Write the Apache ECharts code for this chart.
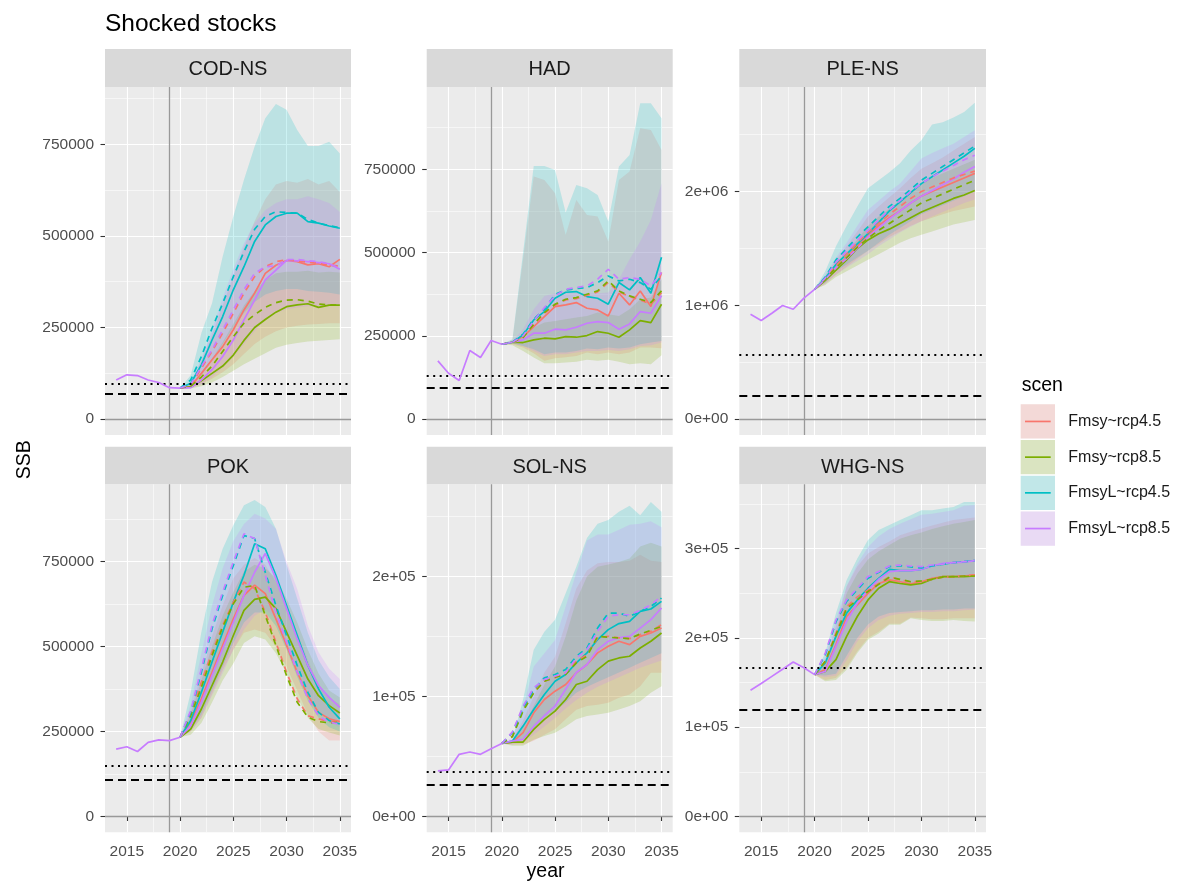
<!DOCTYPE html>
<html><head><meta charset="utf-8">
<script src="https://cdn.jsdelivr.net/npm/echarts@6/dist/echarts.min.js"></script>
<style>html,body{margin:0;padding:0;background:#fff}#c{width:1185px;height:889px}</style>
</head><body><div id="c"></div><script>
// ---------------- DATA ----------------
const YEARS = [2020,2021,2022,2023,2024,2025,2026,2027,2028,2029,2030,2031,2032,2033,2034,2035];
const HIST_YEARS = [2014,2015,2016,2017,2018,2019,2020];
const SCENARIOS = ['Fmsy~rcp4.5','Fmsy~rcp8.5','FmsyL~rcp4.5','FmsyL~rcp8.5'];
const STOCK_NAMES = ['COD-NS','HAD','PLE-NS','POK','SOL-NS','WHG-NS'];
const STOCK_UNIT = [1e3,1e3,1e6,1e3,1e3,1e3];
const X_TICKS = [2015,2020,2025,2030,2035];
const X_MINOR = [2017.5,2022.5,2027.5,2032.5];
const Y_TICKS = [[0,250000,500000,750000],[0,250000,500000,750000],[0,1e6,2e6],[0,250000,500000,750000],[0,1e5,2e5],[0,1e5,2e5,3e5]];
const Y_TICK_LABELS = [['0','250000','500000','750000'],['0','250000','500000','750000'],['0e+00','1e+06','2e+06'],['0','250000','500000','750000'],['0e+00','1e+05','2e+05'],['0e+00','1e+05','2e+05','3e+05']];
const Y_MINOR = [[125000,375000,625000,875000],[125000,375000,625000,875000],[5e5,1.5e6,2.5e6],[125000,375000,625000,875000],[5e4,1.5e5,2.5e5],[5e4,1.5e5,2.5e5,3.5e5]];

// COD-NS (thousand t)
const COD_HIST = [107,121,119,107,100,86,85];
const COD_REF = [97.8, 69.0];
const COD_SOLID = [
 [85,89,125,162,198,244,298,344,398,420,433,430,421,424,416,436],
 [85,88,105,125,145,175,215,250,272,292,307,312,315,305,311,311],
 [85,98,148,216,280,353,416,485,530,553,562,562,539,535,527,521],
 [85,86,107,135,171,216,271,325,380,407,433,432,430,427,424,409]];
const COD_DASHED = [
 [85,92,139,185,235,289,344,389,416,430,435,432,428,425,420,418],
 [85,90,115,145,185,225,262,285,305,318,325,326,322,314,312,311],
 [85,107,171,248,316,389,457,518,553,566,564,562,545,535,528,522],
 [85,95,144,189,244,298,353,398,416,418,435,436,432,430,424,412]];
const COD_LO = [
 [85,86,95,110,128,150,178,205,225,240,250,255,258,260,262,262],
 [85,84,90,100,115,132,150,165,180,195,203,208,212,214,216,218],
 [85,90,120,160,205,250,290,320,340,350,355,355,350,348,345,340],
 [85,84,95,115,140,170,205,240,270,290,300,305,308,308,310,310]];
const COD_HI = [
 [85,95,160,230,310,390,470,540,600,640,650,645,655,640,650,620],
 [85,92,125,165,210,260,310,350,380,398,402,402,405,400,402,400],
 [85,120,235,316,444,553,653,744,821,860,844,789,745,745,757,725],
 [85,100,165,245,330,410,480,535,570,590,600,600,608,600,590,565]];

// HAD (thousand t)
const HAD_HIST = [175,138,116,206,185,236,225];
const HAD_REF = [131, 93];
const HAD_SOLID = [
 [225,231,248,278,308,338,343,350,333,328,310,378,343,385,338,440],
 [225,231,230,238,243,241,248,246,251,263,258,246,268,296,290,345],
 [225,231,253,298,323,363,381,383,368,363,345,410,388,425,378,486],
 [225,231,238,258,258,270,268,276,288,293,290,270,286,323,318,371]];
const HAD_DASHED = [
 [225,231,245,283,318,342,358,362,372,382,410,382,368,358,345,380],
 [225,231,245,285,320,345,360,365,375,385,415,385,370,360,350,385],
 [225,231,255,300,330,375,388,392,395,410,430,415,420,410,390,430],
 [225,231,250,295,335,370,390,395,400,420,450,420,425,420,400,440]];
const HAD_LO = [
 [225,225,215,198,175,183,186,190,200,195,200,195,200,215,215,213],
 [225,222,205,185,168,168,170,172,178,175,178,172,165,168,165,192],
 [225,228,220,210,195,200,200,205,212,210,215,212,215,225,230,235],
 [225,228,220,205,190,195,195,200,205,205,208,205,210,220,222,230]];
const HAD_HI = [
 [225,238,480,728,718,678,553,658,613,608,533,718,743,873,868,808],
 [225,233,255,275,290,295,300,305,310,320,315,310,330,360,365,420],
 [225,240,500,760,760,748,620,703,693,673,593,758,793,948,948,903],
 [225,235,270,330,370,378,378,380,378,378,380,420,480,533,598,708]];

// PLE-NS (million t)
const PLE_HIST = [0.922,0.867,0.931,0.999,0.966,1.063,1.14];
const PLE_REF = [0.565, 0.205];
const PLE_SOLID = [
 [1.14,1.23,1.33,1.42,1.52,1.62,1.70,1.77,1.83,1.90,1.96,2.00,2.04,2.08,2.12,2.16],
 [1.14,1.22,1.31,1.40,1.50,1.575,1.63,1.67,1.72,1.77,1.82,1.86,1.90,1.94,1.97,2.01],
 [1.14,1.24,1.36,1.45,1.54,1.63,1.73,1.83,1.91,1.99,2.07,2.13,2.19,2.25,2.31,2.38],
 [1.14,1.23,1.33,1.41,1.50,1.60,1.68,1.76,1.83,1.90,1.96,2.01,2.06,2.11,2.17,2.22]];
const PLE_DASHED = [
 [1.14,1.24,1.35,1.45,1.55,1.64,1.72,1.80,1.87,1.94,2.00,2.04,2.08,2.12,2.15,2.18],
 [1.14,1.23,1.33,1.42,1.51,1.59,1.66,1.72,1.78,1.84,1.90,1.94,1.98,2.02,2.06,2.10],
 [1.14,1.25,1.40,1.50,1.60,1.69,1.78,1.87,1.94,2.02,2.10,2.16,2.22,2.28,2.34,2.40],
 [1.14,1.24,1.38,1.48,1.57,1.66,1.75,1.84,1.92,2.00,2.07,2.13,2.18,2.23,2.28,2.32]];
const PLE_LO = [
 [1.14,1.19,1.27,1.34,1.41,1.48,1.54,1.60,1.65,1.70,1.74,1.77,1.80,1.83,1.85,1.87],
 [1.14,1.18,1.25,1.30,1.35,1.40,1.45,1.50,1.55,1.59,1.62,1.65,1.68,1.71,1.73,1.75],
 [1.14,1.20,1.30,1.36,1.42,1.48,1.55,1.62,1.68,1.74,1.80,1.84,1.88,1.92,1.96,2.00],
 [1.14,1.19,1.27,1.33,1.39,1.45,1.52,1.58,1.64,1.69,1.74,1.78,1.82,1.86,1.90,1.93]];
const PLE_HI = [
 [1.14,1.26,1.40,1.52,1.65,1.78,1.87,1.95,2.03,2.12,2.20,2.25,2.30,2.36,2.42,2.48],
 [1.14,1.25,1.37,1.47,1.58,1.70,1.78,1.85,1.92,2.00,2.07,2.12,2.16,2.20,2.24,2.28],
 [1.14,1.30,1.52,1.70,1.87,2.03,2.10,2.17,2.25,2.36,2.45,2.59,2.61,2.65,2.70,2.78],
 [1.14,1.27,1.42,1.55,1.70,1.84,1.92,2.00,2.07,2.18,2.29,2.34,2.38,2.42,2.48,2.54]];

// POK (thousand t)
const POK_HIST = [198,205,191,218,225,223,233];
const POK_REF = [150, 107.3];
const POK_SOLID = [
 [233,277,346,424,503,581,650,680,655,581,503,424,355,306,287,279],
 [233,257,316,385,454,532,606,638,645,611,542,473,404,355,326,304],
 [233,282,365,454,542,630,709,802,787,709,620,532,444,375,321,287],
 [233,267,336,414,493,571,650,718,773,699,611,522,444,385,350,321]];
const POK_DASHED = [
 [233,306,395,483,562,630,689,670,601,512,424,346,296,287,279,277],
 [233,296,380,473,557,625,674,679,591,503,414,336,292,279,275,277],
 [233,306,424,552,650,738,826,817,718,620,532,444,365,306,282,272],
 [233,311,434,562,660,748,831,817,709,601,512,424,346,296,277,272]];
const POK_LO = [
 [233,250,290,360,430,490,540,550,540,500,440,370,300,250,223,223],
 [233,240,275,335,400,450,510,530,520,480,420,350,290,257,247,238],
 [233,255,300,370,440,510,570,600,600,560,490,410,340,290,262,250],
 [233,250,290,355,420,490,550,590,610,580,510,430,360,310,280,262]];
const POK_HI = [
 [233,310,420,530,620,700,740,760,740,690,620,540,460,390,350,330],
 [233,300,400,500,590,660,720,740,730,700,640,570,490,420,370,350],
 [233,365,542,689,787,856,915,930,910,846,740,640,540,460,410,375],
 [233,330,480,620,730,810,860,890,876,846,748,669,561,483,434,404]];

// SOL-NS (thousand t)
const SOL_HIST = [38.0,38.8,51.8,53.7,51.8,56.5,60.9];
const SOL_REF = [37.0, 26.3];
const SOL_SOLID = [
 [60.9,62.0,69.8,86.4,97.5,104.4,110.0,119.7,126.6,136.3,141.8,146.0,143.2,150.1,152.9,157.0],
 [60.9,62.0,62.0,72.6,80.9,87.8,97.5,110.0,112.7,122.4,129.4,132.1,133.5,140.4,146.0,152.9],
 [60.9,62.9,75.3,89.2,101.7,112.7,118.3,128.0,136.3,147.4,155.7,160.7,162.6,170.9,172.9,179.2],
 [60.9,62.9,64.3,75.0,84.0,92.0,106.0,120.0,126.6,139.0,146.0,149.0,150.0,157.0,164.0,173.7]];
const SOL_DASHED = [
 [60.9,67.0,89.2,104.4,112.7,115.5,119.7,129.4,134.9,148.8,150.1,148.8,148.2,151.5,154.3,159.8],
 [60.9,66.5,87.8,103.0,112.7,116.0,118.3,128.0,133.5,150.1,149.3,148.8,148.2,152.1,155.1,158.4],
 [60.9,69.8,90.6,105.8,115.5,118.3,122.4,133.5,140.4,157.0,169.5,169.5,166.8,170.9,175.0,182.0],
 [60.9,70.5,91.9,107.2,114.1,116.9,119.7,132.1,139.0,154.3,166.8,168.1,168.1,171.7,176.4,183.4]];
const SOL_LO = [
 [60.9,60,60,63,68,72.6,81,89,92,93,94.7,99,101.7,108.6,119.7,119.7],
 [60.9,59,59,64,67,69.8,75,81,83.7,85,86.4,89.2,92,96,103,108.6],
 [60.9,61,65,72,80,88,95,103,108,112,116,120,124,128,132,136],
 [60.9,60,62,68,75,82,90,97,103,108,112,116,120,124,127,130]];
const SOL_HI = [
 [60.9,64,80,100,120,133,161,190,205,211,212,212,213,218,213,212],
 [60.9,63,75,92,110,125,150,180,200,208,210,212,215,225,228,225],
 [60.9,64,97.5,139,154,164,186,208,232,244,247,254,259,251,262,254],
 [60.9,66,90,125,136,147,175,203,230,235,235,239,243,244,246,241]];

// WHG-NS (thousand t)
const WHG_HIST = [141.4,149,157,165,173,166.7,158.9];
const WHG_REF = [166.7, 120.0];
const WHG_SOLID = [
 [158.9,164.5,192.4,224.0,237.0,250.0,261.0,265.0,263.0,260.5,263.0,266.8,268.7,268.7,269.4,270.6],
 [158.9,162.6,175.7,201.7,224.0,242.6,255.7,263.0,261.0,259.4,261.0,265.7,268.7,268.7,268.7,269.4],
 [158.9,171.9,201.7,227.8,242.6,255.7,266.8,276.9,275.4,275.4,276.9,280.6,282.8,284.3,285.4,286.6],
 [158.9,162.6,190.5,218.5,238.9,253.8,265.7,274.3,275.4,275.4,276.9,280.6,283.5,284.3,285.0,286.6]];
const WHG_DASHED = [
 [158.9,173.8,205.4,235.0,246.0,253.8,261.0,268.7,265.0,263.0,263.0,265.7,268.0,268.7,269.4,270.6],
 [158.9,173.8,203.5,233.0,242.6,252.0,260.0,268.0,265.7,263.0,264.0,265.7,268.0,268.7,269.4,269.4],
 [158.9,181.0,218.0,241.0,254.0,267.0,273.5,280.0,281.0,279.5,278.5,280.8,282.5,284.3,285.4,286.6],
 [158.9,183.0,220.0,242.6,255.7,268.7,274.3,280.6,281.7,280.6,279.8,281.7,282.8,284.3,285.4,286.6]];
const WHG_LO = [
 [158.9,153,155,167,185,200,207,216,216,223,222,221,221,222,222,222],
 [158.9,151.5,153,164.5,183,198,205,214.7,214.7,222,220,219,219,220,219,218.5],
 [158.9,158,160,180,200,215,224,228,229,230,231,231,232,232,233,233],
 [158.9,156,158,175,196,211,220,225,227,228,229,229,230,230,231,232]];
const WHG_HI = [
 [158.9,175,212.9,257.5,279.9,294.7,302,308,315,319,322.7,326,329,332,333.5,335],
 [158.9,172,205,250,272,288,297,304,311,315,318,322,325,328,330,332],
 [158.9,183,227.8,265,289,309.6,320.8,326.4,332,337.5,343,343,345,346.8,352.4,352.4],
 [158.9,178,220,258,283,302,314,322,328,333,338,339,341,343,348,349]];

// ---------------- STYLE / LAYOUT ----------------
const COLORS = ['#F8766D','#7CAE00','#00BFC4','#C77CFF'];
const FONT = 'Liberation Sans, Arial, sans-serif';
const X_MIN = 2012.95, X_MAX = 2036.05;
const Y_RANGE = [[-43150,906300],[-47475,996975],[-139000,2919000],[-46500,976500],[-13180,276780],[-17720,372120]];
const COL_LEFT = [105, 426.7, 739.3];
const COL_W = [246, 246, 246.7];
const ROW_TOP = [87, 484.3];
const STRIP_TOP = [49, 446.7];
const PANEL_H = 348;
const RIBBON_ALPHA = 0.2;

function rgba(hex, a) {
  const n = parseInt(hex.slice(1), 16);
  return 'rgba(' + ((n >> 16) & 255) + ',' + ((n >> 8) & 255) + ',' + (n & 255) + ',' + a + ')';
}

const PANELS = [
  {hist: COD_HIST, ref: COD_REF, solid: COD_SOLID, dashed: COD_DASHED, lo: COD_LO, hi: COD_HI},
  {hist: HAD_HIST, ref: HAD_REF, solid: HAD_SOLID, dashed: HAD_DASHED, lo: HAD_LO, hi: HAD_HI},
  {hist: PLE_HIST, ref: PLE_REF, solid: PLE_SOLID, dashed: PLE_DASHED, lo: PLE_LO, hi: PLE_HI},
  {hist: POK_HIST, ref: POK_REF, solid: POK_SOLID, dashed: POK_DASHED, lo: POK_LO, hi: POK_HI},
  {hist: SOL_HIST, ref: SOL_REF, solid: SOL_SOLID, dashed: SOL_DASHED, lo: SOL_LO, hi: SOL_HI},
  {hist: WHG_HIST, ref: WHG_REF, solid: WHG_SOLID, dashed: WHG_DASHED, lo: WHG_LO, hi: WHG_HI}
];

const grids = [], xAxes = [], yAxes = [], series = [], graphics = [];

PANELS.forEach((p, i) => {
  const row = Math.floor(i / 3), col = i % 3;
  const unit = STOCK_UNIT[i];
  grids.push({left: COL_LEFT[col], top: ROW_TOP[row], width: COL_W[col], height: PANEL_H,
    show: true, backgroundColor: '#EBEBEB', borderWidth: 0, containLabel: false});
  // major x
  xAxes.push({type: 'value', gridIndex: i, min: X_MIN, max: X_MAX, position: 'bottom',
    axisLine: {show: false},
    axisTick: {show: row === 1, customValues: X_TICKS, length: 4.5, lineStyle: {color: '#333333', width: 1.1}},
    axisLabel: {show: row === 1, customValues: X_TICKS, formatter: v => String(v), color: '#4D4D4D', fontSize: 15.5, fontFamily: FONT, margin: 11},
    splitLine: {show: true, lineStyle: {color: '#FFFFFF', width: 1.1}}});
  // minor x
  xAxes.push({type: 'value', gridIndex: i, min: X_MIN, max: X_MAX, position: 'top',
    axisLine: {show: false}, axisTick: {show: false, customValues: X_MINOR},
    axisLabel: {show: false, customValues: X_MINOR},
    splitLine: {show: true, lineStyle: {color: '#FFFFFF', width: 0.55}}});
  // major y
  const yt = Y_TICKS[i], yl = Y_TICK_LABELS[i];
  yAxes.push({type: 'value', gridIndex: i, min: Y_RANGE[i][0], max: Y_RANGE[i][1], position: 'left',
    axisLine: {show: false},
    axisTick: {show: true, customValues: yt, length: 4.5, lineStyle: {color: '#333333', width: 1.1}},
    axisLabel: {show: true, customValues: yt, formatter: v => { const k = yt.indexOf(v); return k >= 0 ? yl[k] : String(v); },
      color: '#4D4D4D', fontSize: 15.5, fontFamily: FONT, margin: 11},
    splitLine: {show: true, lineStyle: {color: '#FFFFFF', width: 1.1}}});
  // minor y
  yAxes.push({type: 'value', gridIndex: i, min: Y_RANGE[i][0], max: Y_RANGE[i][1], position: 'right',
    axisLine: {show: false}, axisTick: {show: false, customValues: Y_MINOR[i]},
    axisLabel: {show: false, customValues: Y_MINOR[i]},
    splitLine: {show: true, lineStyle: {color: '#FFFFFF', width: 0.55}}});

  const xi = 2 * i, yi = 2 * i;
  // ribbons
  SCENARIOS.forEach((s, k) => {
    const data = YEARS.map((y, j) => [y, p.lo[k][j] * unit, p.hi[k][j] * unit]);
    const fill = rgba(COLORS[k], RIBBON_ALPHA);
    series.push({type: 'custom', name: s, xAxisIndex: xi, yAxisIndex: yi, silent: true, z: 2,
      data: data, encode: {x: 0, y: [1, 2]},
      renderItem: function (params, api) {
        if (params.dataIndexInside !== 0) return null;
        const n = params.dataInsideLength || data.length;
        const top = [], bot = [];
        for (let j = 0; j < n; j++) {
          top.push(api.coord([api.value(0, j), api.value(2, j)]));
          bot.push(api.coord([api.value(0, j), api.value(1, j)]));
        }
        return {type: 'polygon', shape: {points: top.concat(bot.reverse())}, style: {fill: fill, stroke: null}};
      }});
  });
  // reference lines
  series.push({type: 'line', xAxisIndex: xi, yAxisIndex: yi, data: [], silent: true, z: 3,
    markLine: {silent: true, symbol: ['none', 'none'], label: {show: false}, animation: false, emphasis: {disabled: true},
      data: [
        {yAxis: 0, lineStyle: {color: '#999999', width: 1.3, type: 'solid'}},
        {xAxis: 2019, lineStyle: {color: '#999999', width: 1.3, type: 'solid'}},
        {yAxis: p.ref[0] * unit, lineStyle: {color: '#000000', width: 2, type: [2, 4.5], cap: 'butt'}},
        {yAxis: p.ref[1] * unit, lineStyle: {color: '#000000', width: 1.9, type: [8, 5], cap: 'butt'}}
      ]}});
  // solid & dashed lines
  SCENARIOS.forEach((s, k) => {
    series.push({type: 'line', name: s, xAxisIndex: xi, yAxisIndex: yi, silent: true, z: 4,
      symbol: 'none', showSymbol: false,
      data: YEARS.map((y, j) => [y, p.solid[k][j] * unit]),
      lineStyle: {color: COLORS[k], width: 1.7, type: 'solid'}});
  });
  SCENARIOS.forEach((s, k) => {
    series.push({type: 'line', name: s + ' (dashed)', xAxisIndex: xi, yAxisIndex: yi, silent: true, z: 4,
      symbol: 'none', showSymbol: false,
      data: YEARS.map((y, j) => [y, p.dashed[k][j] * unit]),
      lineStyle: {color: COLORS[k], width: 1.7, type: [6, 5]}});
  });
  // historical
  series.push({type: 'line', name: 'historical', xAxisIndex: xi, yAxisIndex: yi, silent: true, z: 5,
    symbol: 'none', showSymbol: false,
    data: HIST_YEARS.map((y, j) => [y, p.hist[j] * unit]),
    lineStyle: {color: COLORS[3], width: 1.7}});

  // strip
  graphics.push({type: 'rect', silent: true, shape: {x: COL_LEFT[col], y: STRIP_TOP[row], width: COL_W[col], height: ROW_TOP[row] - STRIP_TOP[row]},
    style: {fill: '#D9D9D9'}});
  graphics.push({type: 'text', silent: true, x: COL_LEFT[col] + COL_W[col] / 2, y: (STRIP_TOP[row] + ROW_TOP[row]) / 2 + 1.5,
    style: {text: STOCK_NAMES[i], fill: '#1A1A1A', font: '20px ' + FONT, align: 'center', verticalAlign: 'middle'}});
});

// axis titles
graphics.push({type: 'text', silent: true, x: 545.5, y: 872, style: {text: 'year', fill: '#000', font: '19.5px ' + FONT, align: 'center', verticalAlign: 'middle'}});
graphics.push({type: 'text', silent: true, x: 25, y: 459.7, rotation: Math.PI / 2, style: {text: 'SSB', fill: '#000', font: '19.5px ' + FONT, align: 'center', verticalAlign: 'middle'}});

// legend
const LEG_X = 1020.7, LEG_Y0 = 404.3, LEG_STEP = 35.7, LEG_KEY = 34.3;
graphics.push({type: 'text', silent: true, x: 1021.7, y: 386, style: {text: 'scen', fill: '#000', font: '19.5px ' + FONT, align: 'left', verticalAlign: 'middle'}});
SCENARIOS.forEach((s, k) => {
  const y = LEG_Y0 + k * LEG_STEP;
  graphics.push({type: 'rect', silent: true, shape: {x: LEG_X, y: y, width: LEG_KEY, height: LEG_KEY}, style: {fill: '#F2F2F2'}});
  graphics.push({type: 'rect', silent: true, shape: {x: LEG_X, y: y, width: LEG_KEY, height: LEG_KEY}, style: {fill: rgba(COLORS[k], RIBBON_ALPHA)}});
  graphics.push({type: 'line', silent: true, shape: {x1: LEG_X + 4.3, y1: y + LEG_KEY / 2, x2: LEG_X + LEG_KEY - 4.3, y2: y + LEG_KEY / 2},
    style: {stroke: COLORS[k], lineWidth: 1.7}});
  graphics.push({type: 'text', silent: true, x: 1068.3, y: y + LEG_KEY / 2, style: {text: s, fill: '#1A1A1A', font: '16px ' + FONT, align: 'left', verticalAlign: 'middle'}});
});

const chart = echarts.init(document.getElementById('c'), null, {renderer: 'canvas'});
chart.setOption({
  animation: false,
  backgroundColor: '#FFFFFF',
  title: {text: 'Shocked stocks', left: 105, top: 12, padding: 0,
    textStyle: {fontSize: 24.5, fontWeight: 'normal', color: '#000', fontFamily: FONT}},
  grid: grids, xAxis: xAxes, yAxis: yAxes, series: series,
  graphic: {elements: graphics}
});
</script></body></html>
